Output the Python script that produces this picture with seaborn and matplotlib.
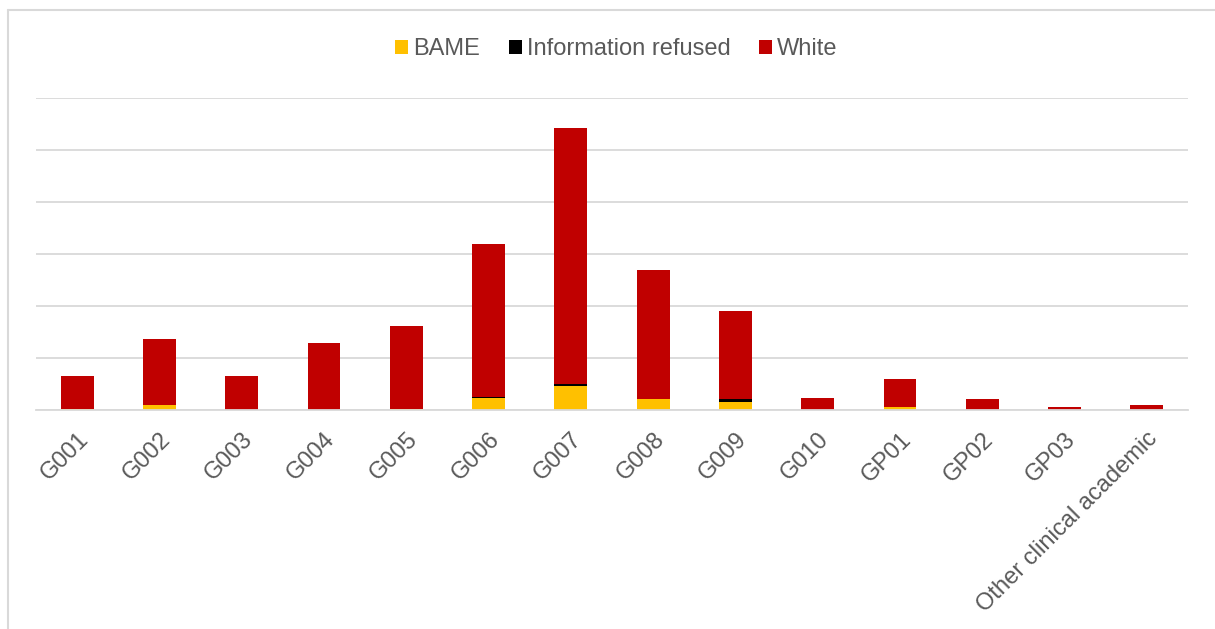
import matplotlib
matplotlib.use("Agg")
import matplotlib.pyplot as plt
import numpy as np
import pandas as pd
import seaborn as sns
from matplotlib.lines import Line2D
from matplotlib.patches import Patch

categories = ["G001", "G002", "G003", "G004", "G005", "G006", "G007",
              "G008", "G009", "G010", "GP01", "GP02", "GP03",
              "Other clinical academic"]
bame = [0.3, 2.0, 0.0, 0.0, 0.4, 4.5, 9.2, 4.1, 3.2, 0.0, 1.2, 0.0, 0.0, 0.0]
refused = [0.0, 0.0, 0.0, 0.0, 0.0, 0.6, 0.9, 0.2, 0.9, 0.0, 0.0, 0.0, 0.0, 0.0]
white = [12.6, 25.5, 13.0, 25.6, 31.9, 58.9, 98.4, 49.7, 33.8, 4.8, 10.7, 4.2, 1.2, 1.9]

series_names = ["BAME", "Information refused", "White"]
series_colors = ["#FFC000", "#000000", "#C00000"]
y_ticks = [0, 20, 40, 60, 80, 100, 120]

df = pd.DataFrame({"group": categories, "BAME": bame,
                   "Information refused": refused, "White": white})

sns.set_theme(style="white")
plt.rcParams["font.family"] = ["Liberation Sans", "DejaVu Sans"]

fig = plt.figure(figsize=(12.15, 6.29), dpi=100)
ax = fig.add_axes([36 / 1215, 1 - 410 / 629, 1152 / 1215, 312 / 629])

bottom = np.zeros(len(categories))
for name, color in zip(series_names, series_colors):
    sns.barplot(data=df, x="group", y=name, order=categories, color=color,
                width=0.40, bottom=bottom, ax=ax, saturation=1,
                edgecolor="none", linewidth=0)
    bottom = bottom + df[name].to_numpy()

ax.set_ylim(0, 120)
ax.set_xlim(-0.5, len(categories) - 0.5)
ax.set_yticks(y_ticks)
ax.yaxis.grid(True, color="#D9D9D9", linewidth=1.3)
ax.set_axisbelow(True)
ax.tick_params(axis="y", left=False, labelleft=False)
ax.tick_params(axis="x", bottom=False, length=0, pad=13)
for s in ["top", "right", "left"]:
    ax.spines[s].set_visible(False)
ax.spines["bottom"].set_color("#D9D9D9")
ax.spines["bottom"].set_linewidth(1.3)
ax.set_xlabel("")
ax.set_ylabel("")
ax.set_xticks(range(len(categories)))
ax.set_xticklabels(categories, rotation=45, ha="right",
                   rotation_mode="anchor", fontsize=17, color="#595959")

handles = [Patch(facecolor=c, edgecolor="none") for c in series_colors]
fig.legend(handles, series_names, loc="center",
           bbox_to_anchor=((607.5 + 9) / 1215, 1 - 49 / 629),
           ncol=3, frameon=False, fontsize=17, labelcolor="#595959",
           handlelength=0.55, handleheight=0.55, handletextpad=0.22,
           columnspacing=1.2)

# chart frame
fig.add_artist(Line2D([7.5 / 1215, 7.5 / 1215], [0, 1 - 10 / 629],
                      transform=fig.transFigure, color="#D9D9D9", linewidth=1.5))
fig.add_artist(Line2D([7.5 / 1215, 1], [1 - 10 / 629, 1 - 10 / 629],
                      transform=fig.transFigure, color="#D9D9D9", linewidth=1.5))

fig.savefig("out.png", dpi=100, facecolor="white")
